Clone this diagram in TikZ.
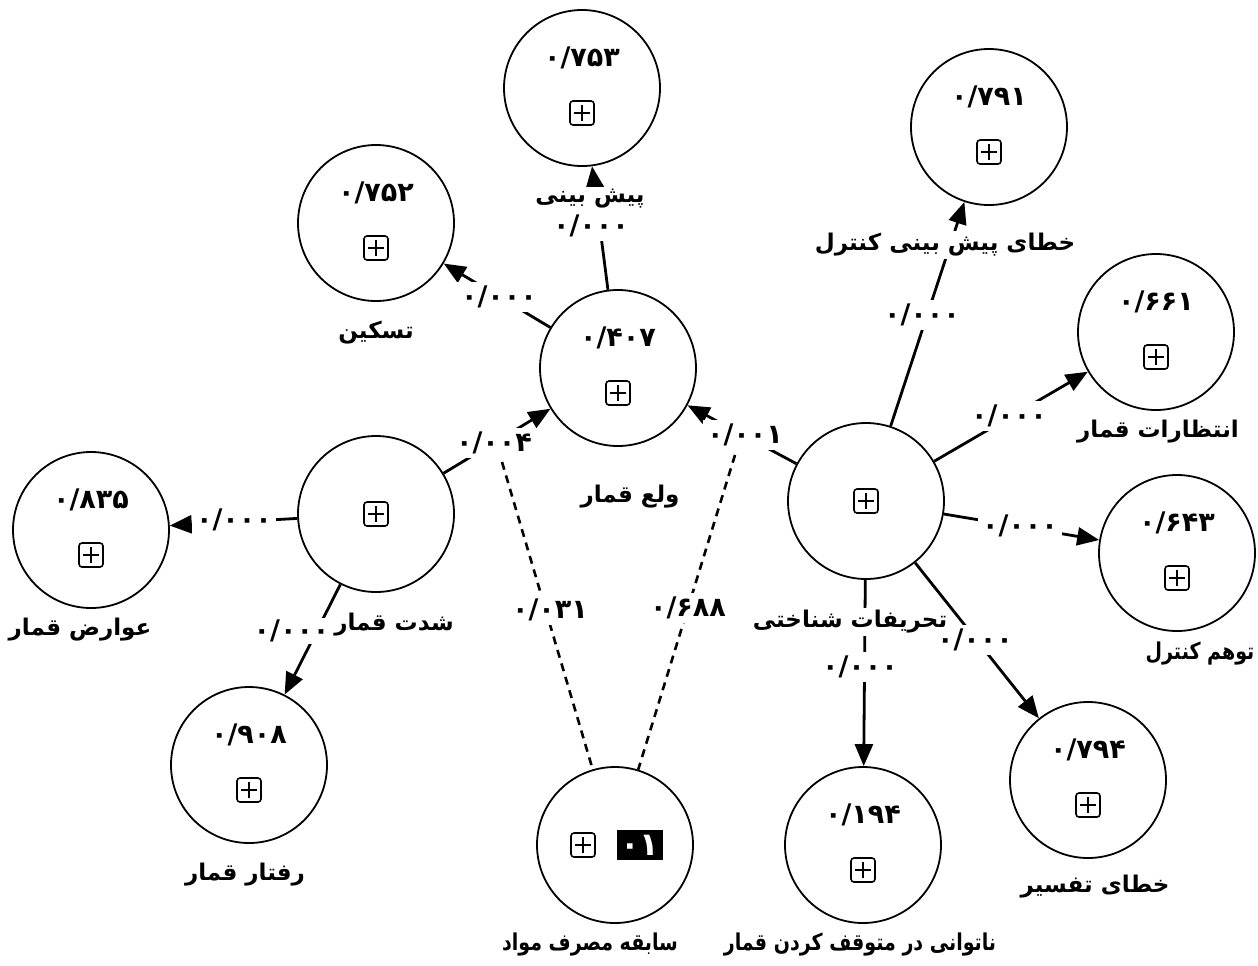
\documentclass[tikz,border=0pt]{standalone}
\usepackage{fontspec}
\newfontfamily\persianfont[Script=Arabic]{DejaVu Sans}
\newfontfamily\persiannarrow[Script=Arabic,FakeStretch=0.82]{DejaVu Sans}
\TeXXeTstate=1
\usetikzlibrary{arrows.meta}
\newcommand\nmfont{\persianfont\bfseries\fontsize{13.5}{15}\selectfont}
\newcommand\lbfont{\persianfont\bfseries\fontsize{11.5}{13}\selectfont}
\newcommand\lbnarrow{\persiannarrow\bfseries\fontsize{11.6}{13}\selectfont}
\begin{document}
\begin{tikzpicture}[x=0.5pt, y=-0.5pt,
  cst/.style={circle, draw, line width=0.9pt, minimum size=78pt, inner sep=0pt},
  val/.style={font=\nmfont, inner sep=0pt},
  pbox/.style={draw, line width=0.8pt, rounded corners=1.5pt, minimum size=12pt, inner sep=0pt,
    path picture={
      \draw[line width=0.8pt] ([yshift=-2pt]path picture bounding box.north) -- ([yshift=2pt]path picture bounding box.south);
      \draw[line width=0.8pt] ([xshift=2pt]path picture bounding box.west) -- ([xshift=-2pt]path picture bounding box.east);}},
  lab/.style={font=\lbfont, fill=white, inner sep=1pt},
  labn/.style={font=\lbnarrow, fill=white, inner sep=1pt},
  plab/.style={font=\nmfont, fill=white, inner sep=2pt},
  arr/.style={line width=1.4pt, -{Triangle[length=11pt,width=9pt]}},
  dsh/.style={line width=1.3pt, dash pattern=on 4pt off 3pt},
]
\useasboundingbox (0,0) rectangle (1258,965);
% circles
\node[cst] (c753) at (582,88) {};
\node[cst] (c752) at (376,223) {};
\node[cst] (c407) at (618,368) {};
\node[cst] (c791) at (989,127) {};
\node[cst] (c661) at (1156,332) {};
\node[cst] (ccog) at (866,501) {};
\node[cst] (c643) at (1177,553) {};
\node[cst] (c835) at (91,530) {};
\node[cst] (csev) at (376,514) {};
\node[cst] (c908) at (249,765) {};
\node[cst] (csub) at (615,845) {};
\node[cst] (c194) at (863,845) {};
\node[cst] (c794) at (1088,780) {};
% circle contents
\foreach \n/\v in {c753/{۰/۷۵۳}, c752/{۰/۷۵۲}, c407/{۰/۴۰۷}, c791/{۰/۷۹۱}, c661/{۰/۶۶۱}, c643/{۰/۶۴۳}, c835/{۰/۸۳۵}, c908/{۰/۹۰۸}, c194/{۰/۱۹۴}, c794/{۰/۷۹۴}}{
  \node[val] (v-\n) at ([yshift=15pt]\n.center) {\v};
  \node[pbox] (b-\n) at ([yshift=-12.5pt]\n.center) {};
}
\node[pbox] (b-csev) at (csev.center) {};
\node[pbox] (b-ccog) at (ccog.center) {};
\node[pbox] (b-csub) at ([xshift=-16pt]csub.center) {};
\node[fill=black, text=white, font=\persianfont\bfseries\fontsize{16}{16}\selectfont, minimum width=23pt, minimum height=15pt, inner sep=0pt] (k-csub) at ([xshift=12.5pt]csub.center) {۰۱};
% moderation points
\coordinate (m1) at (502,462);
\coordinate (m2) at (735,455);
% connectors
\draw[arr] (c407) -- (c753);
\draw[arr] (c407) -- (c752);
\draw[arr] (csev) -- (c407);
\draw[arr] (ccog) -- (c407);
\draw[arr] (csev) -- (c835);
\draw[arr] (csev) -- (c908);
\draw[arr] (ccog) -- (c791);
\draw[arr] (ccog) -- (c661);
\draw[arr] (ccog) -- (c643);
\draw[arr] (ccog) -- (c794);
\draw[arr] (ccog) -- (c194);
\draw[dsh] (m1) -- (csub);
\draw[dsh] (m2) -- (csub);
% path labels
\node[plab] (p753) at (591,226) {۰/۰۰۰};
\node[plab] (p752) at (499,297) {۰/۰۰۰};
\node[plab] (p407s) at (494,443) {۰/۰۰۴};
\node[plab] (p407c) at (745,435) {۰/۰۰۱};
\node[plab] (p835) at (234,520) {۰/۰۰۰};
\node[plab] (p791) at (922,315) {۰/۰۰۰};
\node[plab] (p661) at (1009,416) {۰/۰۰۰};
\node[plab] (p643) at (1020,526) {۰/۰۰۰};
\node[plab] (p794) at (975,640) {۰/۰۰۰};
\node[plab] (p194) at (860,667) {۰/۰۰۰};
\node[plab] (d1) at (550,610) {۰/۰۳۱};
\node[plab] (d2) at (688,608) {۰/۶۸۸};
% construct labels
\node[lab] (l753) at (590,199) {\beginR پیش بینی\endR};
\node[lab] (l752) at (376,333) {\beginR تسکین\endR};
\node[lab] (l407) at (630,497) {\beginR ولع قمار\endR};
\node[lab] (l791) at (945,245) {\beginR خطای پیش بینی کنترل\endR};
\node[lab] (l661) at (1158,432) {\beginR انتظارات قمار\endR};
\node[labn] (l643) at (1200,654) {\beginR توهم کنترل\endR};
\node[lab] (lcog) at (850,622) {\beginR تحریفات شناختی\endR};
\node[lab] (l794) at (1095,887) {\beginR خطای تفسیر\endR};
\node[labn] (l194) at (860,945) {\beginR ناتوانی در متوقف کردن قمار\endR};
\node[labn] (lsub) at (590,945) {\beginR سابقه مصرف مواد\endR};
\node[lab] (l908) at (245,875) {\beginR رفتار قمار\endR};
\node[lab] (l835) at (80,630) {\beginR عوارض قمار\endR};
\node[lab] (lsev) at (394,625) {\beginR شدت قمار\endR};
\node[plab, inner sep=1pt, anchor=east] (p908) at ([yshift=-3pt]lsev.west) {۰/۰۰۰};
\end{tikzpicture}
\end{document}
